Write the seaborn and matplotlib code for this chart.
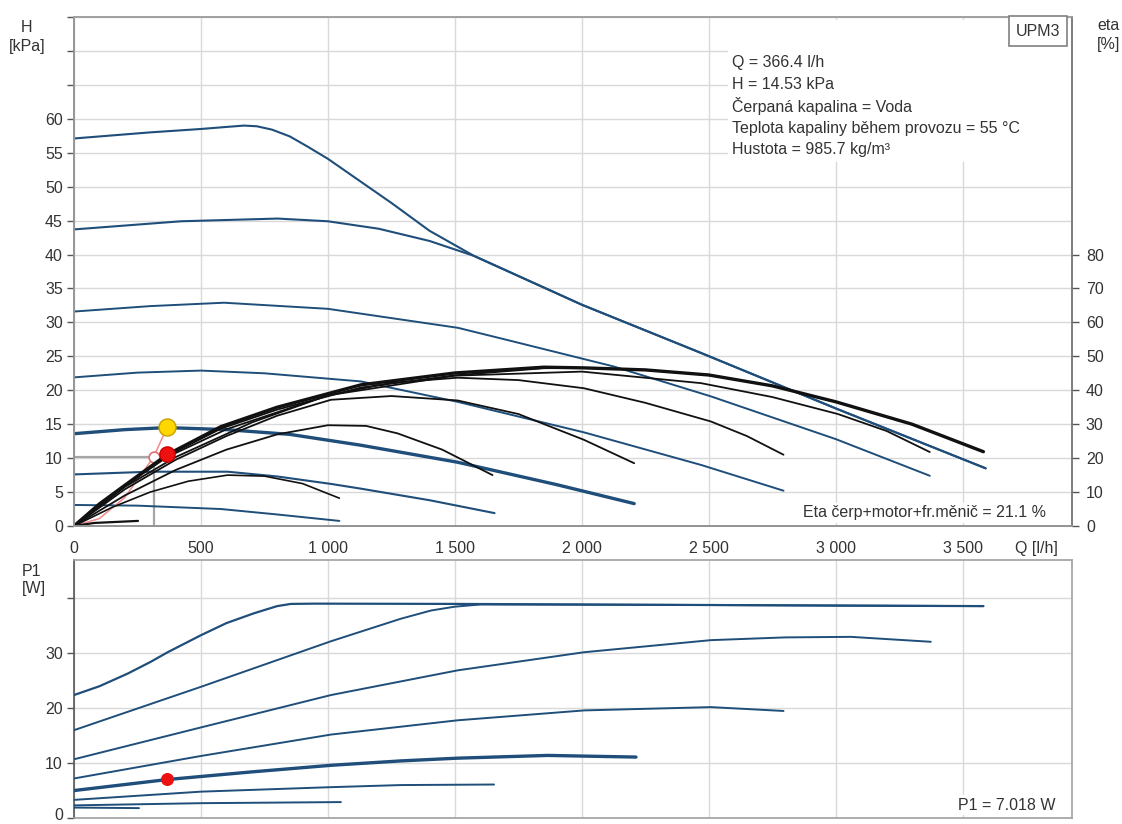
import numpy as np
import pandas as pd
import matplotlib.pyplot as plt
import matplotlib.transforms as mtransforms
import seaborn as sns
from matplotlib.ticker import FuncFormatter

# pump curves UPM3
# Q [l/h] and H [kPa], one pair of lists per speed curve
q_h_max = [0, 300, 500, 600, 669, 720, 780, 850, 920, 1000, 1100, 1250, 1400, 1575, 2000, 2469, 3008, 3590]
h_max = [57.1, 58.0, 58.5, 58.8, 59.0, 58.9, 58.4, 57.4, 55.9, 54.1, 51.5, 47.6, 43.5, 39.8, 32.6, 25.5, 17.2, 8.5]
q_h_45 = [0, 421, 802, 1000, 1200, 1400, 1575, 2000, 2469, 3008, 3590]
h_45 = [43.7, 44.9, 45.3, 44.9, 43.8, 42.0, 39.8, 32.6, 25.5, 17.2, 8.5]
q_h_32 = [0, 300, 591, 1000, 1512, 1707, 2126, 2508, 3000, 3370]
h_32 = [31.6, 32.4, 32.9, 32.0, 29.2, 27.4, 23.5, 19.1, 12.8, 7.4]
q_h_22 = [0, 250, 500, 750, 1130, 1510, 2008, 2469, 2794]
h_22 = [21.9, 22.6, 22.9, 22.5, 21.3, 18.3, 13.8, 9.0, 5.2]
q_h_14 = [0, 200, 366, 600, 850, 1130, 1510, 1900, 2206]
h_14 = [13.6, 14.2, 14.5, 14.2, 13.5, 11.9, 9.4, 6.1, 3.3]
q_h_8 = [0, 300, 605, 800, 1012, 1130, 1400, 1656]
h_8 = [7.6, 8.0, 8.0, 7.3, 6.2, 5.5, 3.8, 1.9]
q_h_3 = [0, 250, 579, 800, 1045]
h_3 = [3.1, 3.0, 2.5, 1.7, 0.75]

# efficiency curves, eta [%]
q_e_max = [0, 100, 200, 366, 579, 800, 1130, 1500, 1850, 2008, 2250, 2500, 2750, 3000, 3300, 3581]
e_max = [0, 6.5, 12, 21, 29.3, 35, 41.6, 45.1, 46.8, 46.6, 46.0, 44.5, 41.3, 36.6, 30, 21.9]
q_e_45 = [0, 100, 200, 366, 579, 800, 1130, 1500, 1850, 2008, 2250, 2500, 2750, 3000, 3300, 3581]
e_45 = [0, 6.4, 11.8, 20.6, 28.7, 34.3, 40.8, 44.4, 46.5, 46.6, 46.0, 44.5, 41.3, 36.6, 30, 21.9]
q_e_32 = [0, 200, 366, 600, 1000, 1500, 2000, 2469, 2750, 3008, 3200, 3370]
e_32 = [0, 11.8, 20.3, 28.5, 38.5, 44.3, 45.5, 42.1, 38, 33, 28, 21.8]
q_e_22 = [0, 200, 400, 700, 1000, 1250, 1510, 1750, 2008, 2250, 2508, 2650, 2794]
e_22 = [0, 11.5, 20.3, 30.5, 38.5, 42.2, 43.7, 43.0, 40.6, 36.3, 30.8, 26.5, 21]
q_e_14 = [0, 200, 400, 600, 800, 1012, 1250, 1510, 1750, 2008, 2206]
e_14 = [0, 10.8, 19.5, 26.5, 32.5, 37.2, 38.3, 37, 33, 25.4, 18.5]
q_e_8 = [0, 200, 400, 600, 800, 1000, 1150, 1274, 1450, 1648]
e_8 = [0, 9, 16.5, 22.5, 27, 29.7, 29.5, 27.3, 22.5, 15]
q_e_3 = [0, 150, 300, 450, 605, 750, 900, 1045]
e_3 = [0, 5.5, 10, 13.2, 15, 14.7, 12.5, 8.2]
q_e_min = [0, 80, 252]
e_min = [0, 0.9, 1.5]

# power input P1 [W]
q_p_max = [0, 100, 211, 300, 369, 500, 600, 709, 800, 854, 950, 1500, 2500, 3000, 3581]
p_max = [22.4, 24.0, 26.3, 28.4, 30.2, 33.3, 35.5, 37.3, 38.6, 39.0, 39.05, 39.0, 38.8, 38.7, 38.6]
q_p_45 = [0, 500, 1012, 1287, 1406, 1500, 1602, 2500, 3000, 3581]
p_45 = [16.0, 23.9, 32.2, 36.3, 37.8, 38.5, 38.9, 38.8, 38.7, 38.6]
q_p_32 = [0, 500, 1012, 1511, 2009, 2508, 2800, 3059, 3374]
p_32 = [10.7, 16.5, 22.4, 26.9, 30.2, 32.4, 32.9, 33.0, 32.1]
q_p_22 = [0, 500, 1012, 1511, 2009, 2508, 2794]
p_22 = [7.2, 11.3, 15.2, 17.8, 19.6, 20.2, 19.5]
q_p_14 = [0, 366, 700, 1012, 1287, 1511, 1865, 2213]
p_14 = [5.0, 7.0, 8.4, 9.6, 10.4, 10.9, 11.4, 11.1]
q_p_8 = [0, 500, 1000, 1287, 1654]
p_8 = [3.3, 4.8, 5.6, 6.0, 6.1]
q_p_3 = [0, 500, 1051]
p_3 = [2.3, 2.7, 2.9]
q_p_min = [0, 256]
p_min = [1.9, 1.8]

# duty point
q_op, h_op, eta_op, p_op = 366.4, 14.53, 21.1, 7.018
q_rd, h_rd = 314, 10.2
q_sys = [0, 100, 200, 314, 366.4]
h_sys = [0, 1.1, 4.2, 10.2, 14.53]

info_lines = ["Q = 366.4 l/h", "H = 14.53 kPa", "Čerpaná kapalina = Voda",
              "Teplota kapaliny během provozu = 55 °C", "Hustota = 985.7 kg/m³"]

blue = "#1f4e7a"
grid_c = "#d9d9d9"
txt_c = "#333333"

sns.set_theme(style="white")
plt.rcParams['font.family'] = ['Liberation Sans', 'DejaVu Sans']
plt.rcParams['font.size'] = 11.5

W, H = 1122, 824
fig = plt.figure(figsize=(W / 100, H / 100), dpi=100)
fig.patch.set_facecolor("white")

def px(x0, y0, x1, y1):
    # pixel box -> figure fraction rect
    return [x0 / W, 1 - y1 / H, (x1 - x0) / W, (y1 - y0) / H]

ax = fig.add_axes(px(74, 17, 1072, 526))
axp = fig.add_axes(px(74, 560, 1072, 818))
ax2 = ax.twinx()

qmax = 3930
thou = FuncFormatter(lambda v, p: f"{int(v):,}".replace(",", " "))

# --- head panel ---
h_curves = [(q_h_max, h_max, 1.5), (q_h_45, h_45, 1.5), (q_h_32, h_32, 1.4),
            (q_h_22, h_22, 1.4), (q_h_14, h_14, 2.4), (q_h_8, h_8, 1.5), (q_h_3, h_3, 1.4)]
for q, h, lw in h_curves:
    sns.lineplot(x=q, y=h, ax=ax, color=blue, linewidth=lw, sort=False, estimator=None, zorder=3)

ax.add_patch(plt.Rectangle((2575, 53.6), qmax - 2575, 21.0, fc="white", ec="none", zorder=1))
ax.hlines(h_rd, 0, q_rd, color="#a6a6a6", lw=1.6, zorder=2)
ax.vlines(q_rd, 0, h_rd, color="#a6a6a6", lw=1.6, zorder=2)
sns.lineplot(x=q_sys, y=h_sys, ax=ax, color="#f08a8a", linewidth=1.1, sort=False, estimator=None, zorder=4)
ax.scatter([q_rd], [h_rd], s=60, facecolor="white", edgecolor="#e07070", lw=1.2, zorder=5)
ax.scatter([q_op], [h_op], s=150, color="#ffd700", edgecolor="#c8a000", lw=1, zorder=6)

ax.set_xlim(0, qmax)
ax.set_ylim(0, 75)
ax.set_xticks(range(0, 3501, 500))
ax.xaxis.set_major_formatter(thou)
ax.set_yticks(range(0, 76, 5))
ax.set_yticklabels([str(v) if v <= 60 else "" for v in range(0, 76, 5)])
ax.grid(True, color=grid_c, lw=1)
ax.set_axisbelow(True)

# --- efficiency (right axis) ---
e_curves = [(q_e_max, e_max, 2.4), (q_e_45, e_45, 1.3), (q_e_32, e_32, 1.3), (q_e_22, e_22, 1.3),
            (q_e_14, e_14, 1.3), (q_e_8, e_8, 1.3), (q_e_3, e_3, 1.2), (q_e_min, e_min, 1.6)]
for q, e, lw in e_curves:
    sns.lineplot(x=q, y=e, ax=ax2, color="#111111", linewidth=lw, sort=False, estimator=None)
ax2.scatter([q_op], [eta_op], s=120, color="#ee1111", edgecolor="#cc0000", zorder=6)
ax2.set_ylim(0, 150)
ax2.set_yticks(range(0, 81, 10))
ax2.grid(False)

# --- power panel ---
p_curves = [(q_p_max, p_max, 1.6), (q_p_45, p_45, 1.4), (q_p_32, p_32, 1.4), (q_p_22, p_22, 1.4),
            (q_p_14, p_14, 2.4), (q_p_8, p_8, 1.4), (q_p_3, p_3, 1.4), (q_p_min, p_min, 1.4)]
for q, p, lw in p_curves:
    sns.lineplot(x=q, y=p, ax=axp, color=blue, linewidth=lw, sort=False, estimator=None, zorder=3)
axp.scatter([q_op], [p_op], s=70, color="#ee1111", zorder=6)
axp.set_xlim(0, qmax)
axp.set_ylim(0, 47)
axp.set_xticks(range(0, 3501, 500))
axp.set_xticklabels([])
axp.set_yticks(range(0, 41, 10))
axp.set_yticklabels(["0", "10", "20", "30", ""])
axp.grid(True, color=grid_c, lw=1)
axp.set_axisbelow(True)

for a in (ax, ax2, axp):
    a.set_xlabel("")
    a.set_ylabel("")
    a.tick_params(colors="#555555", labelcolor=txt_c, labelsize=11.5, length=5, width=1, direction="out")
    for s in a.spines.values():
        s.set_color("#a0a0a0")
        s.set_linewidth(1.2)
ax.spines["left"].set_color("#555555")
ax.spines["bottom"].set_color("#444444")
ax2.spines["right"].set_color("#777777")
axp.spines["left"].set_color("#555555")
ax.tick_params(axis="x", pad=6)
ax.tick_params(axis="y", left=True, pad=3)
ax2.tick_params(axis="y", right=True, pad=5)
axp.tick_params(axis="y", left=True, pad=3)
axp.tick_params(axis="x", bottom=False)

# lift the bottom "0" a touch so it stays inside the image
lab0 = axp.get_yticklabels()[0]
lab0.set_transform(lab0.get_transform() + mtransforms.ScaledTranslation(0, 4 / 100, fig.dpi_scale_trans))

# --- text ---
fig.text(27 / W, 1 - 37 / H, "H\n[kPa]", ha="center", va="center", color=txt_c, fontsize=11.5, linespacing=1.25)
fig.text(1097 / W, 1 - 35 / H, "eta\n[%]", ha="left", va="center", color=txt_c, fontsize=11.5, linespacing=1.25)
fig.text(1015 / W, 1 - 548 / H, "Q [l/h]", ha="left", va="center", color=txt_c, fontsize=11.5)
fig.text(22 / W, 1 - 580 / H, "P1\n[W]", ha="left", va="center", color=txt_c, fontsize=11.5, linespacing=1.25)

for i, line in enumerate(info_lines):
    fig.text(732 / W, 1 - (63 + 21.7 * i) / H, line, ha="left", va="center", color=txt_c, fontsize=11.5)
fig.text(1038 / W, 1 - 31 / H, "UPM3", ha="center", va="center", color=txt_c, fontsize=11.5,
         bbox=dict(boxstyle="square,pad=0.45", fc="white", ec="#808080", lw=1.2))
fig.text(1046 / W, 1 - 513 / H, "Eta čerp+motor+fr.měnič = 21.1 %", ha="right", va="center",
         color=txt_c, fontsize=11.5, bbox=dict(boxstyle="square,pad=0.15", fc="white", ec="none"))
fig.text(1055 / W, 1 - 805 / H, "P1 = 7.018 W", ha="right", va="center", color=txt_c, fontsize=11.5,
         bbox=dict(boxstyle="square,pad=0.15", fc="white", ec="none"))

fig.savefig("out.png", dpi=100, facecolor="white")
